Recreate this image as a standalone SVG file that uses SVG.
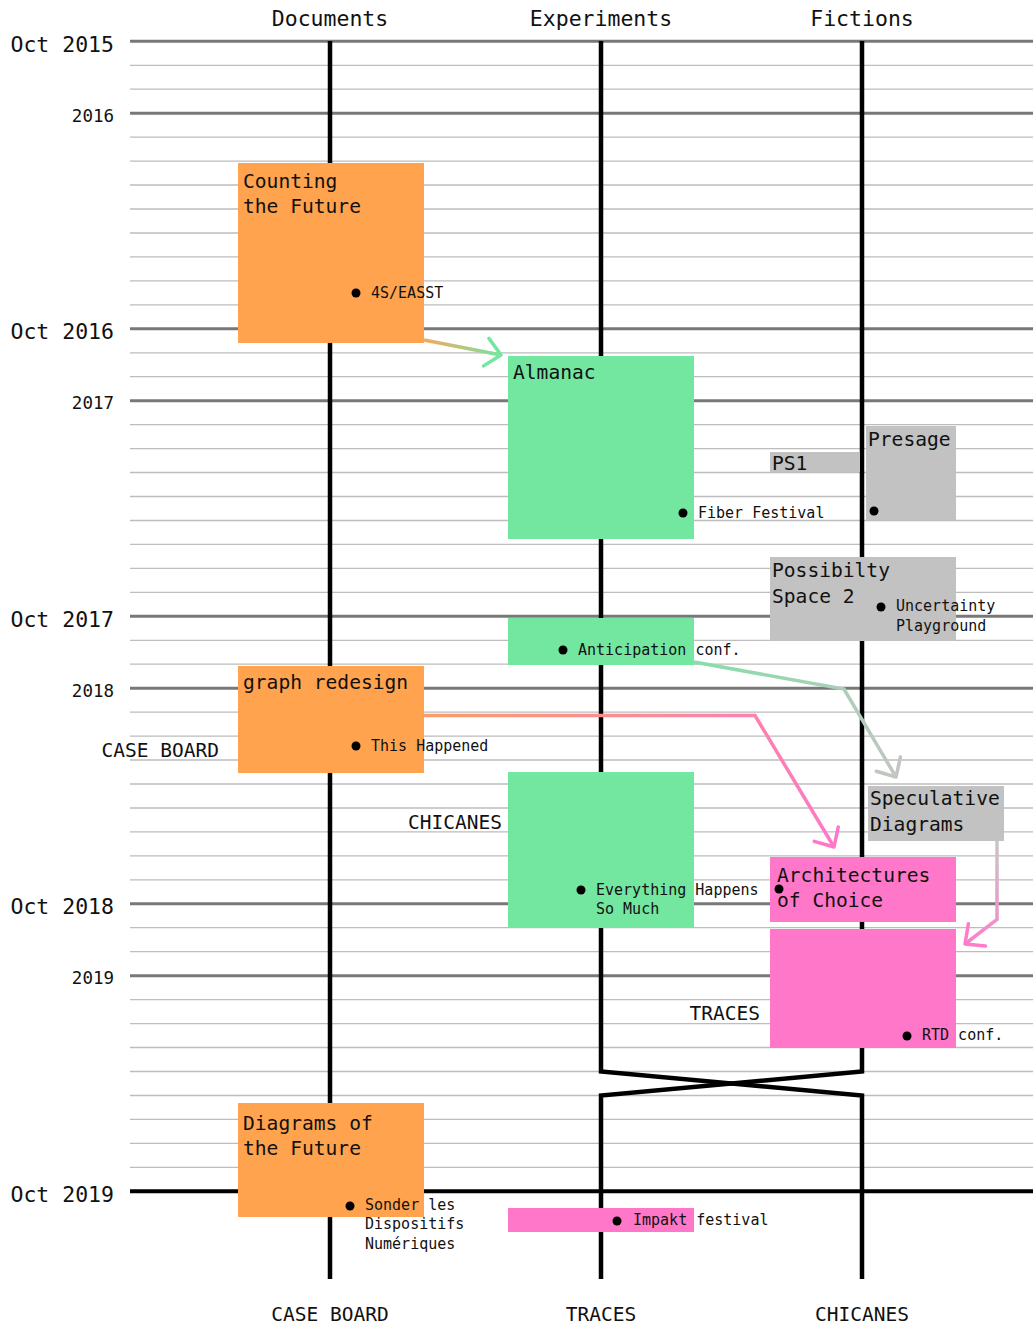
<svg xmlns="http://www.w3.org/2000/svg" width="1033" height="1326" viewBox="0 0 1033 1326">
<style>
text{font-family:"DejaVu Sans Mono","Liberation Mono",monospace;fill:#111}
.hd{font-size:21.5px;text-anchor:middle}
.ft{font-size:19.5px;text-anchor:middle}
.oct{font-size:21.5px;text-anchor:end}
.yr{font-size:17.5px;text-anchor:end}
.lbl{font-size:19.5px;text-anchor:end}
.tt{font-size:19.6px}
.sm{font-size:15px}
.minor{stroke:#bdbdbd;stroke-width:1.3}
.major{stroke:#787878;stroke-width:3}
.axis{fill:none;stroke:#000;stroke-width:4.5}
.orange{fill:#ffa34f}
.green{fill:#73e6a0}
.gray{fill:#c2c2c2}
.pink{fill:#ff77c8}
.conn{fill:none;stroke-width:3.5}
</style>
<defs>
<linearGradient id="gA" gradientUnits="userSpaceOnUse" x1="424" y1="340" x2="501" y2="355"><stop offset="0" stop-color="#f5a85a"/><stop offset="1" stop-color="#73e6a0"/></linearGradient>
<linearGradient id="gB" gradientUnits="userSpaceOnUse" x1="694" y1="662" x2="896" y2="777"><stop offset="0" stop-color="#84dfa8"/><stop offset="1" stop-color="#c2c6c2"/></linearGradient>
<linearGradient id="gC" gradientUnits="userSpaceOnUse" x1="424" y1="715" x2="834" y2="847"><stop offset="0" stop-color="#fa9c6a"/><stop offset="1" stop-color="#ff77c8"/></linearGradient>
<linearGradient id="gD" gradientUnits="userSpaceOnUse" x1="997" y1="841" x2="965" y2="944"><stop offset="0" stop-color="#c8c8c8"/><stop offset="1" stop-color="#ff7cc8"/></linearGradient>
<marker id="mA" markerUnits="userSpaceOnUse" markerWidth="40" markerHeight="40" viewBox="-20 -20 40 40" refX="0" refY="0" orient="auto" overflow="visible"><path d="M-15,-14 L0,0 L-15,14" fill="none" stroke="#73e6a0" stroke-width="3.5" stroke-linecap="round" stroke-linejoin="round"/></marker>
<marker id="mB" markerUnits="userSpaceOnUse" markerWidth="40" markerHeight="40" viewBox="-20 -20 40 40" refX="0" refY="0" orient="auto" overflow="visible"><path d="M-15,-14 L0,0 L-15,14" fill="none" stroke="#c0c6c0" stroke-width="3.5" stroke-linecap="round" stroke-linejoin="round"/></marker>
<marker id="mC" markerUnits="userSpaceOnUse" markerWidth="40" markerHeight="40" viewBox="-20 -20 40 40" refX="0" refY="0" orient="auto" overflow="visible"><path d="M-15,-14 L0,0 L-15,14" fill="none" stroke="#ff77c8" stroke-width="3.5" stroke-linecap="round" stroke-linejoin="round"/></marker>
<marker id="mD" markerUnits="userSpaceOnUse" markerWidth="40" markerHeight="40" viewBox="-20 -20 40 40" refX="0" refY="0" orient="auto" overflow="visible"><path d="M-15,-14 L0,0 L-15,14" fill="none" stroke="#ff7cc8" stroke-width="3.5" stroke-linecap="round" stroke-linejoin="round"/></marker>
</defs>
<rect width="1033" height="1326" fill="#fff"/>
<g id="grid">
<g class="minor">
<line x1="130" y1="65.3" x2="1033" y2="65.3"/>
<line x1="130" y1="89.2" x2="1033" y2="89.2"/>
<line x1="130" y1="137.1" x2="1033" y2="137.1"/>
<line x1="130" y1="161.1" x2="1033" y2="161.1"/>
<line x1="130" y1="185" x2="1033" y2="185"/>
<line x1="130" y1="209" x2="1033" y2="209"/>
<line x1="130" y1="233" x2="1033" y2="233"/>
<line x1="130" y1="256.9" x2="1033" y2="256.9"/>
<line x1="130" y1="280.9" x2="1033" y2="280.9"/>
<line x1="130" y1="304.8" x2="1033" y2="304.8"/>
<line x1="130" y1="352.8" x2="1033" y2="352.8"/>
<line x1="130" y1="376.7" x2="1033" y2="376.7"/>
<line x1="130" y1="424.6" x2="1033" y2="424.6"/>
<line x1="130" y1="448.6" x2="1033" y2="448.6"/>
<line x1="130" y1="472.5" x2="1033" y2="472.5"/>
<line x1="130" y1="496.5" x2="1033" y2="496.5"/>
<line x1="130" y1="520.5" x2="1033" y2="520.5"/>
<line x1="130" y1="544.4" x2="1033" y2="544.4"/>
<line x1="130" y1="568.4" x2="1033" y2="568.4"/>
<line x1="130" y1="592.3" x2="1033" y2="592.3"/>
<line x1="130" y1="640.3" x2="1033" y2="640.3"/>
<line x1="130" y1="664.2" x2="1033" y2="664.2"/>
<line x1="130" y1="712.1" x2="1033" y2="712.1"/>
<line x1="130" y1="736.1" x2="1033" y2="736.1"/>
<line x1="130" y1="760" x2="1033" y2="760"/>
<line x1="130" y1="784" x2="1033" y2="784"/>
<line x1="130" y1="808" x2="1033" y2="808"/>
<line x1="130" y1="831.9" x2="1033" y2="831.9"/>
<line x1="130" y1="855.9" x2="1033" y2="855.9"/>
<line x1="130" y1="879.8" x2="1033" y2="879.8"/>
<line x1="130" y1="927.7" x2="1033" y2="927.7"/>
<line x1="130" y1="951.7" x2="1033" y2="951.7"/>
<line x1="130" y1="999.6" x2="1033" y2="999.6"/>
<line x1="130" y1="1023.6" x2="1033" y2="1023.6"/>
<line x1="130" y1="1047.5" x2="1033" y2="1047.5"/>
<line x1="130" y1="1071.5" x2="1033" y2="1071.5"/>
<line x1="130" y1="1095.5" x2="1033" y2="1095.5"/>
<line x1="130" y1="1119.4" x2="1033" y2="1119.4"/>
<line x1="130" y1="1143.4" x2="1033" y2="1143.4"/>
<line x1="130" y1="1167.3" x2="1033" y2="1167.3"/>
</g>
<g class="major">
<line x1="130" y1="41.3" x2="1033" y2="41.3"/>
<line x1="130" y1="113.2" x2="1033" y2="113.2"/>
<line x1="130" y1="328.8" x2="1033" y2="328.8"/>
<line x1="130" y1="400.7" x2="1033" y2="400.7"/>
<line x1="130" y1="616.3" x2="1033" y2="616.3"/>
<line x1="130" y1="688.2" x2="1033" y2="688.2"/>
<line x1="130" y1="903.8" x2="1033" y2="903.8"/>
<line x1="130" y1="975.7" x2="1033" y2="975.7"/>
</g>
<line x1="130" y1="1191.3" x2="1033" y2="1191.3" stroke="#000" stroke-width="4"/>
<text class="oct" x="114" y="52">Oct 2015</text>
<text class="yr" x="114" y="122">2016</text>
<text class="oct" x="114" y="339">Oct 2016</text>
<text class="yr" x="114" y="409">2017</text>
<text class="oct" x="114" y="627">Oct 2017</text>
<text class="yr" x="114" y="697">2018</text>
<text class="oct" x="114" y="914">Oct 2018</text>
<text class="yr" x="114" y="984">2019</text>
<text class="oct" x="114" y="1202">Oct 2019</text>
</g>
<g id="tracks">
<path class="axis" d="M330,41 V1279"/>
<path class="axis" d="M601,41 V1071.5 L862,1095.5 V1279"/>
<path class="axis" d="M862,41 V1071.5 L601,1095.5 V1279"/>
<text class="hd" x="330" y="26">Documents</text>
<text class="hd" x="601" y="26">Experiments</text>
<text class="hd" x="862" y="26">Fictions</text>
<text class="ft" x="330" y="1321">CASE BOARD</text>
<text class="ft" x="601" y="1321">TRACES</text>
<text class="ft" x="862" y="1321">CHICANES</text>
<text class="lbl" x="219" y="757">CASE BOARD</text>
<text class="lbl" x="502" y="829">CHICANES</text>
<text class="lbl" x="760" y="1020">TRACES</text>
</g>
<g id="n-counting">
<rect class="orange" x="238" y="163" width="186" height="180"/>
<text class="tt" x="243" y="188">Counting</text>
<text class="tt" x="243" y="213">the Future</text>
<circle cx="356" cy="293" r="4.5"/>
<text class="sm" x="371" y="298">4S/EASST</text>
</g>
<g id="n-almanac">
<rect class="green" x="508" y="356" width="186" height="183"/>
<text class="tt" x="513" y="379">Almanac</text>
<circle cx="683" cy="513" r="4.5"/>
<text class="sm" x="698" y="518">Fiber Festival</text>
</g>
<g id="n-ps1">
<rect class="gray" x="770" y="452" width="90" height="20"/>
<text class="tt" x="772" y="470">PS1</text>
</g>
<g id="n-presage">
<rect class="gray" x="866" y="426" width="90" height="94"/>
<text class="tt" x="868" y="446">Presage</text>
<circle cx="874" cy="511" r="4.5"/>
</g>
<g id="n-possibility">
<rect class="gray" x="770" y="557" width="186" height="84"/>
<text class="tt" x="772" y="577">Possibilty</text>
<text class="tt" x="772" y="603">Space 2</text>
<circle cx="881" cy="607" r="4.5"/>
<text class="sm" x="896" y="611">Uncertainty</text>
<text class="sm" x="896" y="631">Playground</text>
</g>
<g id="n-anticipation">
<rect class="green" x="508" y="618" width="186" height="47"/>
<circle cx="563" cy="650" r="4.5"/>
<text class="sm" x="578" y="655">Anticipation conf.</text>
</g>
<g id="n-graph">
<rect class="orange" x="238" y="666" width="186" height="107"/>
<text class="tt" x="243" y="689">graph redesign</text>
<circle cx="356" cy="746" r="4.5"/>
<text class="sm" x="371" y="751">This Happened</text>
</g>
<g id="n-everything">
<rect class="green" x="508" y="772" width="186" height="156"/>
<circle cx="581" cy="890" r="4.5"/>
<text class="sm" x="596" y="895">Everything Happens</text>
<text class="sm" x="596" y="914">So Much</text>
</g>
<g id="n-speculative">
<rect class="gray" x="868" y="786" width="136" height="55"/>
<text class="tt" x="870" y="805">Speculative</text>
<text class="tt" x="870" y="831">Diagrams</text>
</g>
<g id="n-architectures">
<rect class="pink" x="770" y="857" width="186" height="65"/>
<text class="tt" x="777" y="882">Architectures</text>
<text class="tt" x="777" y="907">of Choice</text>
<circle cx="779" cy="889" r="4.5"/>
</g>
<g id="n-rtd">
<rect class="pink" x="770" y="929" width="186" height="119"/>
<circle cx="907" cy="1036" r="4.5"/>
<text class="sm" x="922" y="1040">RTD conf.</text>
</g>
<g id="n-diagrams">
<rect class="orange" x="238" y="1103" width="186" height="114"/>
<text class="tt" x="243" y="1130">Diagrams of</text>
<text class="tt" x="243" y="1155">the Future</text>
<circle cx="350" cy="1206" r="4.5"/>
<text class="sm" x="365" y="1210">Sonder les</text>
<text class="sm" x="365" y="1229">Dispositifs</text>
<text class="sm" x="365" y="1249">Numériques</text>
</g>
<g id="n-impakt">
<rect class="pink" x="508" y="1208" width="186" height="24"/>
<circle cx="617" cy="1221" r="4.5"/>
<text class="sm" x="633" y="1225">Impakt festival</text>
</g>
<g id="connectors">
<path class="conn" stroke="url(#gA)" marker-end="url(#mA)" d="M424,340 L501,355"/>
<path class="conn" stroke="url(#gB)" marker-end="url(#mB)" d="M694,662 L844,689 L896,777"/>
<path class="conn" stroke="url(#gC)" marker-end="url(#mC)" d="M424,715.5 L755,715.5 L834,847"/>
<path class="conn" stroke="url(#gD)" marker-end="url(#mD)" d="M997,841 L997,919.5 L965,944"/>
</g>
</svg>
